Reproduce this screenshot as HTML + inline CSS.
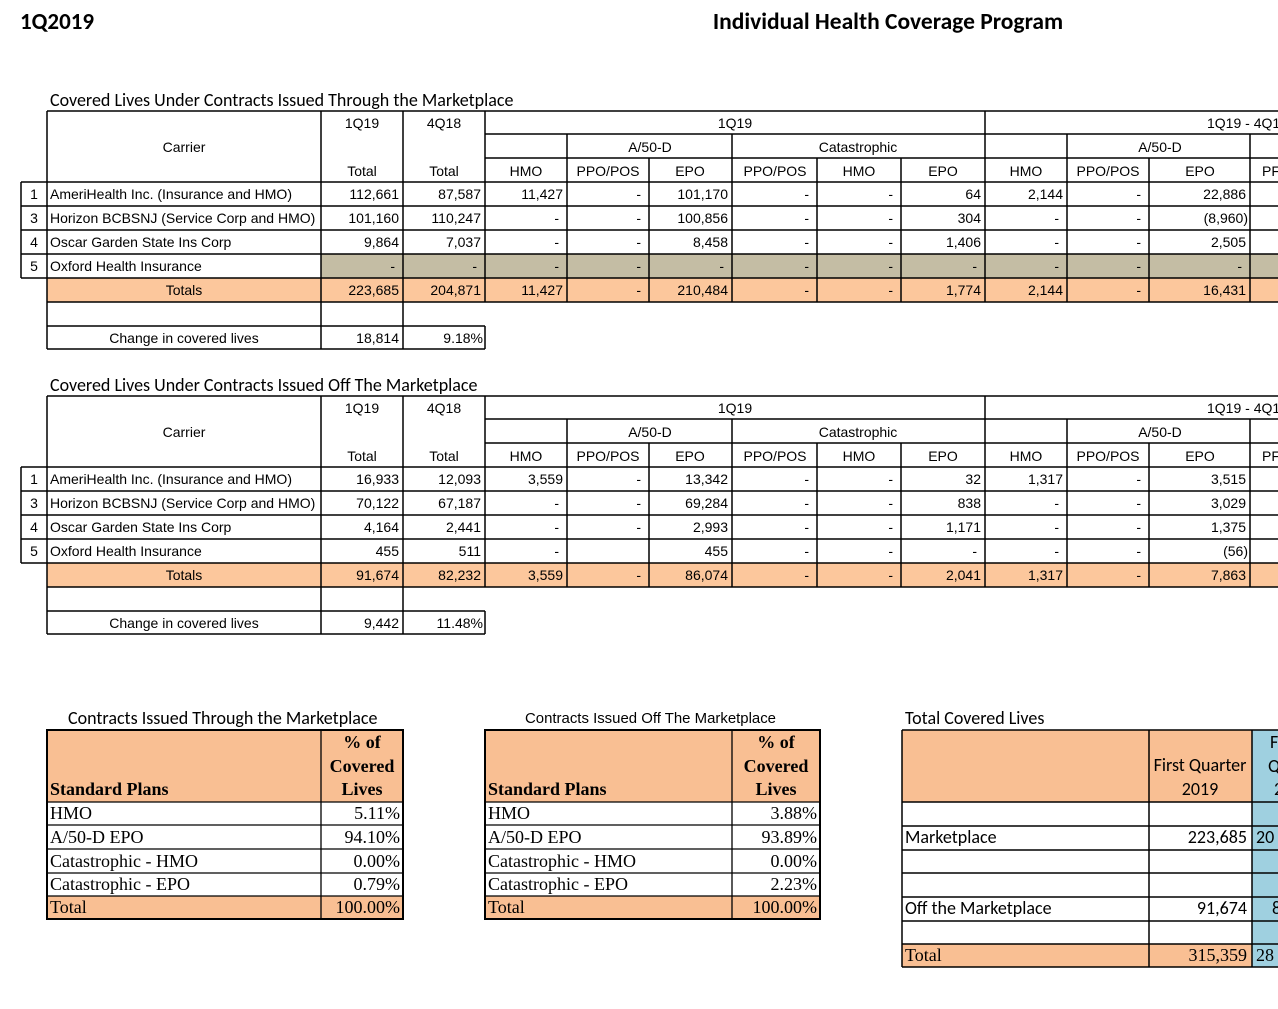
<!DOCTYPE html>
<html><head><meta charset="utf-8"><style>
html,body{margin:0;padding:0;background:#fff;width:1278px;height:1009px;overflow:hidden}
svg text{font-family:"Liberation Sans Narrow","Liberation Sans",sans-serif;font-size:14px;fill:#000}
.c{text-anchor:middle}.r{text-anchor:end}
.cal{font-family:"Carlito","Liberation Sans",sans-serif;font-size:18px}
.ser{font-family:"Liberation Serif",serif;font-size:18px}
.b{font-weight:bold}
</style></head><body>
<svg width="1278" height="1009" xmlns="http://www.w3.org/2000/svg">
<text x="20" y="29" class="cal b" style="font-size:23px">1Q2019</text>
<text x="888" y="29" class="cal b c" style="font-size:23.5px">Individual Health Coverage Program</text>

<!-- TABLE 1 -->
<g id="t1">
<text x="50" y="106" class="cal" style="font-size:18px">Covered Lives Under Contracts Issued Through the Marketplace</text>
<rect x="321" y="254" width="957" height="24" fill="#c4bda4"/>
<rect x="47" y="278" width="1231" height="24" fill="#fcc79c"/>
<g stroke="#000" stroke-width="1.5" fill="none">
<path d="M47 111H1278M485 134H1278M485 158H1278M21 182H1278M21 206H1278M21 230H1278M21 254H1278M21 278H1278M47 302H1278M47 326H485M47 349H485"/>
<path d="M21 182V278M47 111V349M321 111V349M403 111V349M485 111V302M485 326V349M985 111V302M567 134V302M732 134V302M1067 134V302M1250 134V302M649 158V302M817 158V302M901 158V302M1149 158V302"/>
</g>
<text x="362" y="128" class="c">1Q19</text><text x="444" y="128" class="c">4Q18</text>
<text x="184" y="152" class="c">Carrier</text>
<text x="362" y="176" class="c">Total</text><text x="444" y="176" class="c">Total</text>
<text x="735" y="128" class="c">1Q19</text><text x="1207" y="128">1Q19 - 4Q18</text>
<text x="650" y="152" class="c">A/50-D</text><text x="858" y="152" class="c">Catastrophic</text><text x="1160" y="152" class="c">A/50-D</text>
<text x="526" y="176" class="c">HMO</text><text x="608" y="176" class="c">PPO/POS</text><text x="690" y="176" class="c">EPO</text><text x="775" y="176" class="c">PPO/POS</text><text x="859" y="176" class="c">HMO</text><text x="943" y="176" class="c">EPO</text><text x="1026" y="176" class="c">HMO</text><text x="1108" y="176" class="c">PPO/POS</text><text x="1200" y="176" class="c">EPO</text><text x="1262" y="176">PF</text>
<text x="34" y="199" class="c">1</text><text x="34" y="223" class="c">3</text><text x="34" y="247" class="c">4</text><text x="34" y="271" class="c">5</text>
<text x="50" y="199">AmeriHealth  Inc. (Insurance and HMO)</text>
<text x="50" y="223">Horizon BCBSNJ (Service Corp and HMO)</text>
<text x="50" y="247">Oscar Garden State Ins Corp</text>
<text x="50" y="271">Oxford Health Insurance</text>
<text x="184" y="295" class="c">Totals</text>
<text x="399" y="199" class="r">112,661</text><text x="481" y="199" class="r">87,587</text><text x="563" y="199" class="r">11,427</text><text x="641" y="199" class="r">-</text><text x="728" y="199" class="r">101,170</text><text x="809" y="199" class="r">-</text><text x="893" y="199" class="r">-</text><text x="981" y="199" class="r">64</text><text x="1063" y="199" class="r">2,144</text><text x="1141" y="199" class="r">-</text><text x="1246" y="199" class="r">22,886</text>
<text x="399" y="223" class="r">101,160</text><text x="481" y="223" class="r">110,247</text><text x="559" y="223" class="r">-</text><text x="641" y="223" class="r">-</text><text x="728" y="223" class="r">100,856</text><text x="809" y="223" class="r">-</text><text x="893" y="223" class="r">-</text><text x="981" y="223" class="r">304</text><text x="1059" y="223" class="r">-</text><text x="1141" y="223" class="r">-</text><text x="1248" y="223" class="r">(8,960)</text>
<text x="399" y="247" class="r">9,864</text><text x="481" y="247" class="r">7,037</text><text x="559" y="247" class="r">-</text><text x="641" y="247" class="r">-</text><text x="728" y="247" class="r">8,458</text><text x="809" y="247" class="r">-</text><text x="893" y="247" class="r">-</text><text x="981" y="247" class="r">1,406</text><text x="1059" y="247" class="r">-</text><text x="1141" y="247" class="r">-</text><text x="1246" y="247" class="r">2,505</text>
<text x="395" y="271" class="r">-</text><text x="477" y="271" class="r">-</text><text x="559" y="271" class="r">-</text><text x="641" y="271" class="r">-</text><text x="724" y="271" class="r">-</text><text x="809" y="271" class="r">-</text><text x="893" y="271" class="r">-</text><text x="977" y="271" class="r">-</text><text x="1059" y="271" class="r">-</text><text x="1141" y="271" class="r">-</text><text x="1242" y="271" class="r">-</text>
<text x="399" y="295" class="r">223,685</text><text x="481" y="295" class="r">204,871</text><text x="563" y="295" class="r">11,427</text><text x="641" y="295" class="r">-</text><text x="728" y="295" class="r">210,484</text><text x="809" y="295" class="r">-</text><text x="893" y="295" class="r">-</text><text x="981" y="295" class="r">1,774</text><text x="1063" y="295" class="r">2,144</text><text x="1141" y="295" class="r">-</text><text x="1246" y="295" class="r">16,431</text>
<text x="184" y="343" class="c">Change in covered lives</text><text x="399" y="343" class="r">18,814</text><text x="483" y="343" class="r">9.18%</text>
</g>

<!-- TABLE 2 -->
<g transform="translate(0,285)">
<text x="50" y="106" class="cal" style="font-size:18px">Covered Lives Under Contracts Issued Off The Marketplace</text>
<rect x="47" y="278" width="1231" height="24" fill="#fcc79c"/>
<g stroke="#000" stroke-width="1.5" fill="none">
<path d="M47 111H1278M485 134H1278M485 158H1278M21 182H1278M21 206H1278M21 230H1278M21 254H1278M21 278H1278M47 302H1278M47 326H485M47 349H485"/>
<path d="M21 182V278M47 111V349M321 111V349M403 111V349M485 111V302M485 326V349M985 111V302M567 134V302M732 134V302M1067 134V302M1250 134V302M649 158V302M817 158V302M901 158V302M1149 158V302"/>
</g>
<text x="362" y="128" class="c">1Q19</text><text x="444" y="128" class="c">4Q18</text>
<text x="184" y="152" class="c">Carrier</text>
<text x="362" y="176" class="c">Total</text><text x="444" y="176" class="c">Total</text>
<text x="735" y="128" class="c">1Q19</text><text x="1207" y="128">1Q19 - 4Q18</text>
<text x="650" y="152" class="c">A/50-D</text><text x="858" y="152" class="c">Catastrophic</text><text x="1160" y="152" class="c">A/50-D</text>
<text x="526" y="176" class="c">HMO</text><text x="608" y="176" class="c">PPO/POS</text><text x="690" y="176" class="c">EPO</text><text x="775" y="176" class="c">PPO/POS</text><text x="859" y="176" class="c">HMO</text><text x="943" y="176" class="c">EPO</text><text x="1026" y="176" class="c">HMO</text><text x="1108" y="176" class="c">PPO/POS</text><text x="1200" y="176" class="c">EPO</text><text x="1262" y="176">PF</text>
<text x="34" y="199" class="c">1</text><text x="34" y="223" class="c">3</text><text x="34" y="247" class="c">4</text><text x="34" y="271" class="c">5</text>
<text x="50" y="199">AmeriHealth  Inc. (Insurance and HMO)</text>
<text x="50" y="223">Horizon BCBSNJ (Service Corp and HMO)</text>
<text x="50" y="247">Oscar Garden State Ins Corp</text>
<text x="50" y="271">Oxford Health Insurance</text>
<text x="184" y="295" class="c">Totals</text>
<text x="399" y="199" class="r">16,933</text><text x="481" y="199" class="r">12,093</text><text x="563" y="199" class="r">3,559</text><text x="641" y="199" class="r">-</text><text x="728" y="199" class="r">13,342</text><text x="809" y="199" class="r">-</text><text x="893" y="199" class="r">-</text><text x="981" y="199" class="r">32</text><text x="1063" y="199" class="r">1,317</text><text x="1141" y="199" class="r">-</text><text x="1246" y="199" class="r">3,515</text>
<text x="399" y="223" class="r">70,122</text><text x="481" y="223" class="r">67,187</text><text x="559" y="223" class="r">-</text><text x="641" y="223" class="r">-</text><text x="728" y="223" class="r">69,284</text><text x="809" y="223" class="r">-</text><text x="893" y="223" class="r">-</text><text x="981" y="223" class="r">838</text><text x="1059" y="223" class="r">-</text><text x="1141" y="223" class="r">-</text><text x="1246" y="223" class="r">3,029</text>
<text x="399" y="247" class="r">4,164</text><text x="481" y="247" class="r">2,441</text><text x="559" y="247" class="r">-</text><text x="641" y="247" class="r">-</text><text x="728" y="247" class="r">2,993</text><text x="809" y="247" class="r">-</text><text x="893" y="247" class="r">-</text><text x="981" y="247" class="r">1,171</text><text x="1059" y="247" class="r">-</text><text x="1141" y="247" class="r">-</text><text x="1246" y="247" class="r">1,375</text>
<text x="399" y="271" class="r">455</text><text x="481" y="271" class="r">511</text><text x="559" y="271" class="r">-</text><text x="728" y="271" class="r">455</text><text x="809" y="271" class="r">-</text><text x="893" y="271" class="r">-</text><text x="977" y="271" class="r">-</text><text x="1059" y="271" class="r">-</text><text x="1141" y="271" class="r">-</text><text x="1248" y="271" class="r">(56)</text>
<text x="399" y="295" class="r">91,674</text><text x="481" y="295" class="r">82,232</text><text x="563" y="295" class="r">3,559</text><text x="641" y="295" class="r">-</text><text x="728" y="295" class="r">86,074</text><text x="809" y="295" class="r">-</text><text x="893" y="295" class="r">-</text><text x="981" y="295" class="r">2,041</text><text x="1063" y="295" class="r">1,317</text><text x="1141" y="295" class="r">-</text><text x="1246" y="295" class="r">7,863</text>
<text x="184" y="343" class="c">Change in covered lives</text><text x="399" y="343" class="r">9,442</text><text x="483" y="343" class="r">11.48%</text>
</g>

<!-- Bottom left -->
<text x="68" y="724" class="cal" style="font-size:18px">Contracts Issued Through the Marketplace</text>
<rect x="47" y="730" width="356" height="72" fill="#f9bf93"/>
<rect x="47" y="896" width="356" height="23" fill="#f9bf93"/>
<g stroke="#000" stroke-width="1.3" fill="none">
<path d="M47 802H403M47 825H403M47 849H403M47 873H403M47 896H403M321 730V919"/>
<rect x="47" y="730" width="356" height="189" stroke-width="2"/>
</g>
<text x="362" y="748" class="ser b c">% of</text><text x="362" y="772" class="ser b c">Covered</text><text x="362" y="795" class="ser b c">Lives</text>
<text x="50" y="795" class="ser b">Standard Plans</text>
<text x="50" y="819" class="ser">HMO</text><text x="400" y="819" class="ser r">5.11%</text>
<text x="50" y="843" class="ser">A/50-D EPO</text><text x="400" y="843" class="ser r">94.10%</text>
<text x="50" y="867" class="ser">Catastrophic  - HMO</text><text x="400" y="867" class="ser r">0.00%</text>
<text x="50" y="890" class="ser">Catastrophic  - EPO</text><text x="400" y="890" class="ser r">0.79%</text>
<text x="50" y="913" class="ser">Total</text><text x="400" y="913" class="ser r">100.00%</text>

<!-- Bottom middle -->
<text x="525" y="723" textLength="251" lengthAdjust="spacingAndGlyphs" style="font-size:15px">Contracts Issued Off The Marketplace</text>
<rect x="485" y="730" width="335" height="72" fill="#f9bf93"/>
<rect x="485" y="896" width="335" height="23" fill="#f9bf93"/>
<g stroke="#000" stroke-width="1.3" fill="none">
<path d="M485 802H820M485 825H820M485 849H820M485 873H820M485 896H820M732 730V919"/>
<rect x="485" y="730" width="335" height="189" stroke-width="2"/>
</g>
<text x="776" y="748" class="ser b c">% of</text><text x="776" y="772" class="ser b c">Covered</text><text x="776" y="795" class="ser b c">Lives</text>
<text x="488" y="795" class="ser b">Standard Plans</text>
<text x="488" y="819" class="ser">HMO</text><text x="817" y="819" class="ser r">3.88%</text>
<text x="488" y="843" class="ser">A/50-D EPO</text><text x="817" y="843" class="ser r">93.89%</text>
<text x="488" y="867" class="ser">Catastrophic - HMO</text><text x="817" y="867" class="ser r">0.00%</text>
<text x="488" y="890" class="ser">Catastrophic - EPO</text><text x="817" y="890" class="ser r">2.23%</text>
<text x="488" y="913" class="ser">Total</text><text x="817" y="913" class="ser r">100.00%</text>

<!-- Bottom right -->
<text x="905" y="724" class="cal">Total Covered Lives</text>
<rect x="902" y="730" width="350" height="72" fill="#f9bf93"/>
<rect x="902" y="944" width="350" height="23" fill="#f9bf93"/>
<rect x="1252" y="730" width="26" height="237" fill="#9fd0e0"/>
<g stroke="#000" stroke-width="1.5" fill="none">
<path d="M902 730H1278M902 802H1278M902 826H1278M902 850H1278M902 873H1278M902 897H1278M902 921H1278M902 944H1278M902 967H1278M902 730V967M1149 730V967M1252 730V967"/>
</g>
<text x="1200" y="771" class="cal c">First Quarter</text><text x="1200" y="795" class="cal c">2019</text>
<text x="1270" y="748" class="cal">F</text><text x="1268" y="772" class="cal">Q</text><text x="1274" y="795" class="cal">2</text>
<text x="905" y="843" class="cal">Marketplace</text><text x="1247" y="843" class="cal r">223,685</text><text x="1256" y="843" class="cal">20</text>
<text x="905" y="914" class="cal">Off the Marketplace</text><text x="1247" y="914" class="cal r">91,674</text><text x="1272" y="914" class="cal">8</text>
<text x="905" y="961" class="ser">Total</text><text x="1247" y="961" class="ser r">315,359</text><text x="1256" y="961" class="ser">28</text>
</svg>
</body></html>
